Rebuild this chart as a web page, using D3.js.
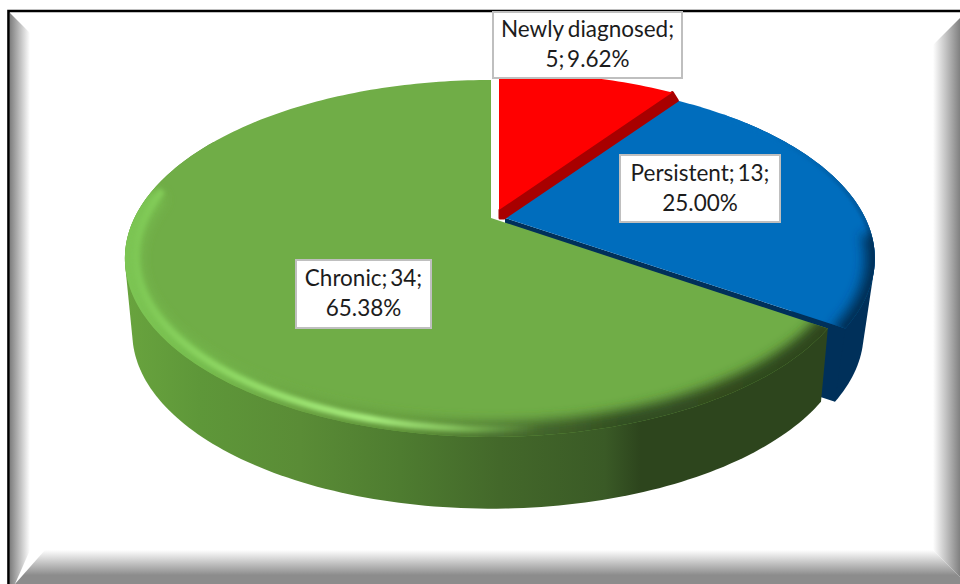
<!DOCTYPE html>
<html>
<head>
<meta charset="utf-8">
<script src="https://cdnjs.cloudflare.com/ajax/libs/d3/7.8.5/d3.min.js"></script>
<style>
html,body{margin:0;padding:0;background:#fff;overflow:hidden}
svg{display:block}
text{font-family:Lato,"Open Sans",sans-serif;font-size:22.5px;fill:#1c1c1c}
</style>
</head>
<body>
<svg id="chart" width="960" height="584"></svg>
<script>
// Patient groups and their counts
const categories = ["Newly diagnosed", "Persistent", "Chronic"];
const counts = [5, 13, 34];
const labelLines = [
  d => [`${d.name};`, `${d.value}; ${d.pct}%`],
  d => [`${d.name}; ${d.value};`, `${d.pct}%`],
  d => [`${d.name}; ${d.value};`, `${d.pct}%`]
];

// Slice palette
const faceColors = ["#ff0000", "#006dbd", "#70ad47"];
const wallColors = ["#a80000", "#00305a", "#2d451d"];
// Horizontal offset of each exploded slice's apex
const apexX = [499, 505, 491];
// Width factor of each slice's top face
const faceWidth = [1, 0.995, 0.985];
// Label boxes: x0, y0, x1, y1
const labelBoxes = [[493, 12, 682, 78], [620, 155, 780, 222], [296, 260, 431, 328]];

const svg = d3.select("#chart");
const defs = svg.append("defs");
const total = d3.sum(counts);
const fmt = d3.format(".2f");

// Perspective projection of the tilted unit disc onto the page
const apexY = 218, P = 0.2267, A = 169.3, B = 362;
const baseDisc = {dy: 75, sx: 0.965, sy: 0.985};
function project(cx, theta, disc, r = 1) {
  const u = Math.sin(theta) * r, v = Math.cos(theta) * r, w = 1 + P * v;
  return [cx + disc.sx * B * u / w, apexY + disc.dy - disc.sy * A * v / w];
}
const line = d3.line();
function arcPoints(cx, a0, a1, disc, r = 1) {
  const n = Math.max(2, Math.ceil(Math.abs(a1 - a0) / 0.02));
  return d3.range(n + 1).map(i => project(cx, a0 + (a1 - a0) * i / n, disc, r));
}
const deg = Math.PI / 180;

const slices = d3.pie().sort(null).startAngle(0).endAngle(2 * Math.PI)(counts)
  .map((s, i) => ({
    ...s, i, name: categories[i], cx: apexX[i],
    disc: {dy: i === 0 ? -8 : 0, sx: faceWidth[i], sy: 1},
    pct: fmt(s.value / total * 100)
  }));

// Gradients --------------------------------------------------------------
function grad(id, stops, x1, x2, y1 = 0, y2 = 0) {
  const g = defs.append("linearGradient").attr("id", id)
    .attr("gradientUnits", "userSpaceOnUse")
    .attr("x1", x1).attr("x2", x2).attr("y1", y1).attr("y2", y2);
  stops.forEach(([o, c, a]) => {
    const stop = g.append("stop").attr("offset", o).attr("stop-color", c);
    if (a !== undefined) stop.attr("stop-opacity", a);
  });
}
const sx = x => (x - 122) / (830 - 122);
grad("greenSide", [[0, "#69a43e"], [sx(200), "#5e9739"], [sx(300), "#5a8c36"], [sx(400), "#4e7c30"], [sx(500), "#43682a"], [sx(605), "#3a5a26"], [sx(640), "#2d451d"], [1, "#2d451d"]], 122, 830);
grad("greenRim", [[0, "#7cc653"], [sx(200), "#76bd4e"], [sx(300), "#6aa242"], [sx(400), "#5f9339"], [sx(500), "#4a7030"], [sx(620), "#334f21"], [1, "#2d451d"]], 122, 830);
grad("greenGlow", [[0, "#7cc653"], [sx(250), "#93dc68"], [sx(370), "#a8ee7e"], [sx(450), "#86c45e"], [sx(540), "#70ad47", 0], [1, "#70ad47", 0]], 122, 830);
grad("blueEdge", [[0, "#006dbd"], [0.55, "#00589c"], [1, "#003a68"]], 780, 860, 130, 330);
grad("bevelL", [[0, "#7f7f7f"], [1, "#ffffff"]], 10, 30);
grad("bevelR", [[0, "#ffffff"], [1, "#808080"]], 933, 960);
grad("bevelB", [[0, "#ffffff"], [0.74, "#8c8c8c"], [1, "#8c8c8c"]], 0, 0, 550, 584);
[["blur6", 6], ["blur3", 2.2], ["blur2", 1.5]].forEach(([id, sd]) => {
  defs.append("filter").attr("id", id)
    .attr("filterUnits", "userSpaceOnUse").attr("x", 0).attr("y", 0).attr("width", 960).attr("height", 584)
    .append("feGaussianBlur").attr("stdDeviation", sd);
});

// Frame with bevelled edges ----------------------------------------------
const frame = svg.append("g");
frame.append("polygon").attr("points", "10,13 30,33 30,550 15,584 10,584").attr("fill", "url(#bevelL)");
frame.append("polygon").attr("points", "960,18 933,45 933,550 960,577").attr("fill", "url(#bevelR)");
frame.append("polygon").attr("points", "15,584 45,550 933,550 960,577 960,584").attr("fill", "url(#bevelB)");
frame.append("path").attr("d", "M8.5,584V11H960").attr("fill", "none").attr("stroke", "#000").attr("stroke-width", 2.6);

// Pie -------------------------------------------------------------------
const pie = svg.append("g");
const [red, blue, green] = slices;

// Wall of a slice: the convex hull of its upper and lower arcs, so the
// silhouette runs straight along the tangent between the two discs
function sidePath(s, a0, a1) {
  return line(d3.polygonHull([...arcPoints(s.cx, a0, a1, s.disc), ...arcPoints(s.cx, a0, a1, baseDisc)])) + "Z";
}
function facePath(s) {
  return line([[s.cx, apexY + s.disc.dy], ...arcPoints(s.cx, s.startAngle, s.endAngle, s.disc)]) + "Z";
}
slices.forEach(s => {
  defs.append("clipPath").attr("id", `clip${s.i}`).append("path").attr("d", facePath(s));
});
function rim(s, a0, a1, r, stroke, width, blur) {
  pie.append("g").attr("clip-path", `url(#clip${s.i})`)
    .append("path")
    .attr("d", line(arcPoints(s.cx, a0, a1, s.disc, r)))
    .attr("fill", "none").attr("stroke", stroke).attr("stroke-width", width)
    .attr("filter", `url(#${blur})`);
}

// Blue slice: outer wall, radial wall, then its face
pie.append("path").attr("d", sidePath(blue, 50 * deg, blue.endAngle)).attr("fill", wallColors[1]);
pie.append("path")
  .attr("d", line([[blue.cx, apexY], project(blue.cx, blue.endAngle, blue.disc), project(blue.cx, blue.endAngle, baseDisc), [blue.cx, apexY + 75]]) + "Z")
  .attr("fill", wallColors[1]);
pie.append("path").attr("d", facePath(blue)).attr("fill", faceColors[1]);
rim(blue, 45 * deg, blue.endAngle, 1, "url(#blueEdge)", 7, "blur2");
rim(blue, 95 * deg, blue.endAngle + 2 * deg, 1, wallColors[1], 20, "blur6");

// Red slice: dark radial edge under the raised face
const wallEnd = project(red.cx + 5, red.endAngle, {dy: 0, sx: 1, sy: 1});
const faceEnd = project(red.cx, red.endAngle, red.disc);
pie.append("path")
  .attr("d", line([[red.cx + 1, apexY + red.disc.dy], faceEnd, wallEnd, [red.cx + 5, apexY], [red.cx + 1, apexY]]) + "Z")
  .attr("fill", wallColors[0]).attr("stroke", wallColors[0]).attr("stroke-width", 3).attr("stroke-linejoin", "round");
pie.append("path").attr("d", facePath(red)).attr("fill", faceColors[0]);

// Green slice: wall with its left-to-right shading, face, soft rim and highlight
pie.append("path").attr("d", sidePath(green, green.startAngle, 300 * deg)).attr("fill", "url(#greenSide)");
pie.append("path").attr("d", facePath(green)).attr("fill", faceColors[2]);
rim(green, green.startAngle - 2 * deg, 280 * deg, 1, "url(#greenRim)", 30, "blur6");
rim(green, 165 * deg, 280 * deg, 0.972, "url(#greenGlow)", 7, "blur3");

// Data labels -----------------------------------------------------------
const labels = svg.append("g").selectAll("g").data(slices).join("g");
labels.append("rect")
  .attr("x", d => labelBoxes[d.i][0]).attr("y", d => labelBoxes[d.i][1])
  .attr("width", d => labelBoxes[d.i][2] - labelBoxes[d.i][0])
  .attr("height", d => labelBoxes[d.i][3] - labelBoxes[d.i][1])
  .attr("fill", "#fff").attr("stroke", "#bfbfbf").attr("stroke-width", 2);
labels.each(function (d) {
  const [x0, y0, x1, y1] = labelBoxes[d.i];
  const cx = (x0 + x1) / 2, cy = (y0 + y1) / 2;
  labelLines[d.i](d).forEach((t, j) => {
    d3.select(this).append("text")
      .attr("x", cx).attr("y", cy + (j === 0 ? -8 : 22))
      .attr("text-anchor", "middle")
      .attr("word-spacing", t.includes("; ") ? -3 : -1.5)
      .text(t);
  });
});
</script>
</body>
</html>
